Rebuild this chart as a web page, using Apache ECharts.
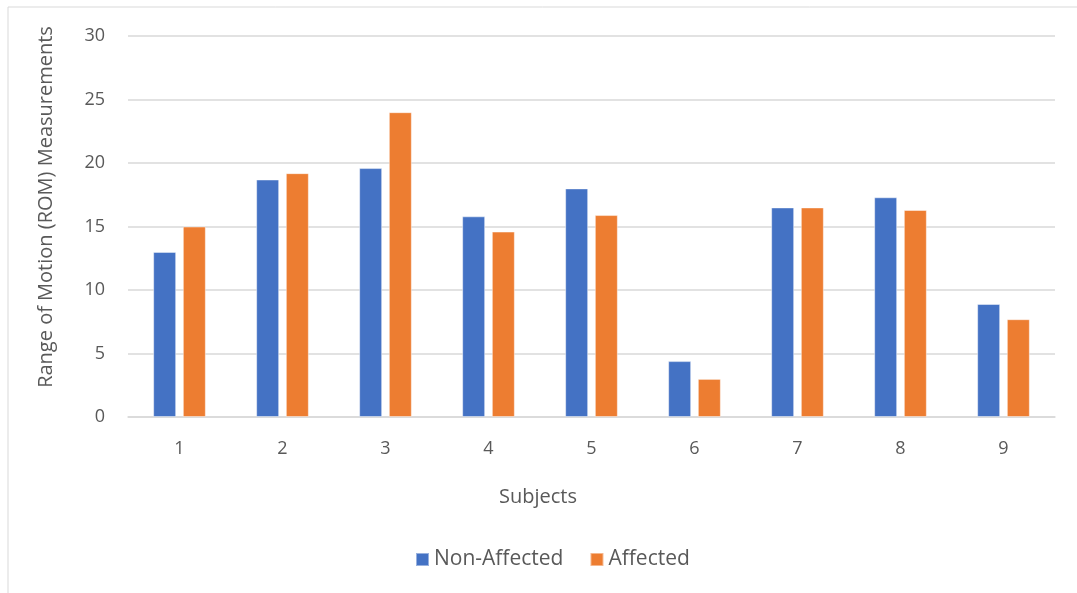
<!DOCTYPE html>
<html>
<head>
<meta charset="utf-8">
<script src="https://cdn.jsdelivr.net/npm/echarts@6/dist/echarts.min.js"></script>
<style>
  html, body { margin: 0; padding: 0; background: #fff; }
  #chart { width: 1077px; height: 593px; }
</style>
</head>
<body>
<div id="chart"></div>
<script>
// Range of motion per subject, non-affected vs affected side
const subjects = ['1', '2', '3', '4', '5', '6', '7', '8', '9'];
const nonAffected = [13.0, 18.7, 19.6, 15.8, 18.0, 4.4, 16.5, 17.3, 8.9];
const affected = [15.0, 19.2, 24.0, 14.6, 15.9, 3.0, 16.5, 16.3, 7.7];
const yTicks = [0, 5, 10, 15, 20, 25, 30];

const FONT = '"Open Sans", "Liberation Sans", sans-serif';
const TEXT = '#595959';

const chart = echarts.init(document.getElementById('chart'));

chart.setOption({
  animation: false,
  textStyle: { fontFamily: FONT },
  grid: { left: 128, right: 22, top: 36, bottom: 176, containLabel: false },
  legend: {
    bottom: 18,
    left: 410,
    itemWidth: 13,
    itemHeight: 13,
    itemGap: 26,
    icon: 'rect',
    textStyle: { fontFamily: FONT, fontSize: 21, color: TEXT },
    data: ['Non-Affected', 'Affected']
  },
  xAxis: {
    type: 'category',
    data: subjects,
    axisLine: { lineStyle: { color: '#d9d9d9', width: 1.5 } },
    axisTick: { show: false },
    axisLabel: { fontSize: 18, color: TEXT, margin: 23 }
  },
  yAxis: {
    type: 'value',
    min: yTicks[0],
    max: yTicks[yTicks.length - 1],
    interval: yTicks[1] - yTicks[0],
    axisLine: { show: false },
    axisTick: { show: false },
    axisLabel: { fontSize: 18, color: TEXT, margin: 23 },
    splitLine: { lineStyle: { color: '#d9d9d9', width: 1.5 } }
  },
  graphic: [
    {
      type: 'text',
      x: 46,
      y: 207,
      rotation: Math.PI / 2,
      style: {
        text: 'Range of Motion (ROM) Measurements',
        fontFamily: FONT,
        fontSize: 20,
        fill: TEXT,
        align: 'center',
        verticalAlign: 'middle'
      }
    },
    {
      type: 'text',
      x: 538,
      y: 497,
      style: {
        text: 'Subjects',
        fontFamily: FONT,
        fontSize: 20,
        fill: TEXT,
        align: 'center',
        verticalAlign: 'middle'
      }
    },
    {
      type: 'line',
      shape: { x1: 8, y1: 7, x2: 1077, y2: 7 },
      style: { stroke: '#d9d9d9', lineWidth: 1 }
    },
    {
      type: 'line',
      shape: { x1: 8, y1: 7, x2: 8, y2: 593 },
      style: { stroke: '#d9d9d9', lineWidth: 1 }
    }
  ],
  series: [
    {
      name: 'Non-Affected',
      type: 'bar',
      data: nonAffected,
      barWidth: 23,
      barGap: '29%',
      itemStyle: { color: '#4472c4', borderColor: 'rgba(255,255,255,0.45)', borderWidth: 1 }
    },
    {
      name: 'Affected',
      type: 'bar',
      data: affected,
      barWidth: 23,
      barGap: '29%',
      itemStyle: { color: '#ed7d31', borderColor: 'rgba(255,255,255,0.45)', borderWidth: 1 }
    }
  ]
});
</script>
</body>
</html>
